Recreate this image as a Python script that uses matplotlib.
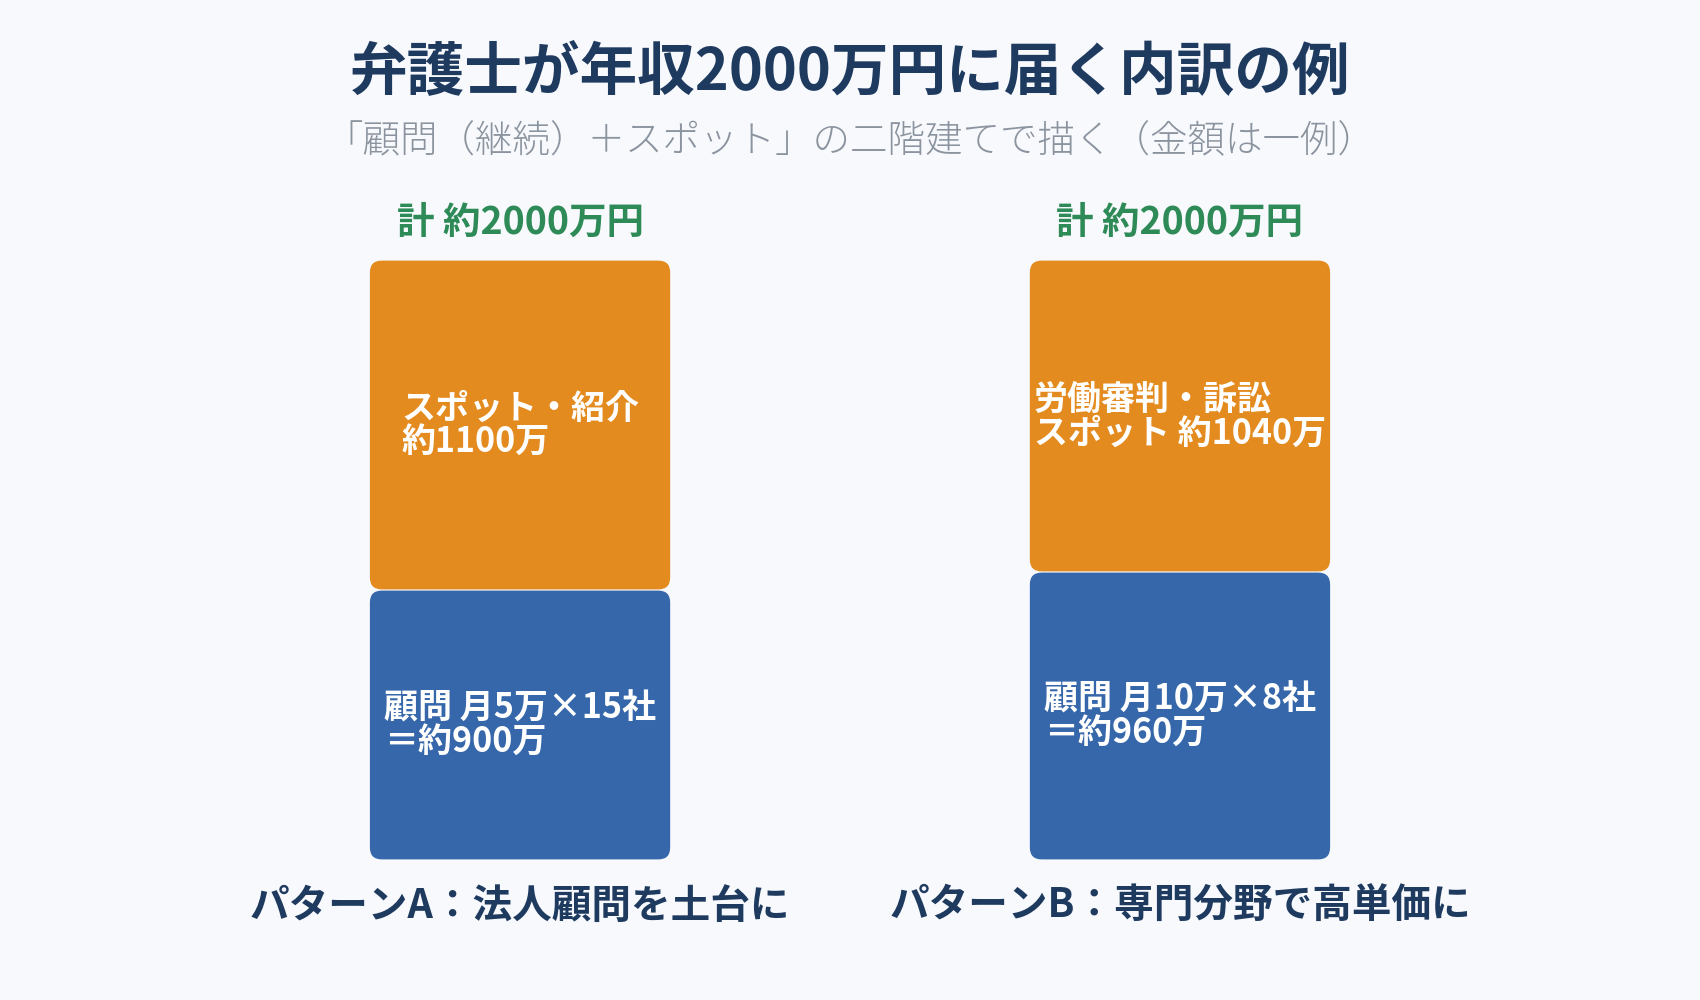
import matplotlib
matplotlib.use('Agg')
import matplotlib.pyplot as plt
from matplotlib.patches import FancyBboxPatch

plt.rcParams['font.family'] = ['Noto Sans CJK JP', 'DejaVu Sans']

# data
patterns = ['パターンA：法人顧問を土台に', 'パターンB：専門分野で高単価に']
komon = [900, 960]
spot = [1100, 1040]
komon_labels = ['顧問 月5万×15社\n＝約900万', '顧問 月10万×8社\n＝約960万']
spot_labels = ['スポット・紹介\n約1100万', '労働審判・訴訟\nスポット 約1040万']
total_label = '計 約2000万円'

bg = '#f7f9fd'
c_blue = '#3567aa'
c_orange = '#e48b1f'
c_navy = '#1f3a5f'
c_green = '#2e8b57'

fig = plt.figure(figsize=(17, 10), dpi=100, facecolor=bg)
ax = fig.add_axes([0, 0, 1, 1])
ax.set_facecolor(bg)
ax.set_xlim(-0.788, 1.788)
ax.set_ylim(-140 / 0.3, 860 / 0.3)
ax.axis('off')

x = list(range(len(patterns)))
w = 0.455
b1 = ax.bar(x, komon, width=w, color=c_blue)
b2 = ax.bar(x, spot, width=w, bottom=komon, color=c_orange)

# replace plain bars with rounded ones
asp = (1 / 0.3) / (1 / 660)
for bars in (b1, b2):
    for p in bars:
        p.set_visible(False)
        fb = FancyBboxPatch((p.get_x(), p.get_y() + 2), p.get_width(), p.get_height() - 4,
                            boxstyle='round,pad=0,rounding_size=0.018',
                            mutation_aspect=asp, facecolor=p.get_facecolor(),
                            edgecolor='none')
        ax.add_patch(fb)

for i in x:
    ax.text(i, komon[i] / 2, komon_labels[i], ha='center', va='center',
            multialignment='left', color='white', fontsize=24.5, fontweight='bold',
            linespacing=0.95)
    ax.text(i, komon[i] + spot[i] / 2, spot_labels[i], ha='center', va='center',
            multialignment='left', color='white', fontsize=24.5, fontweight='bold',
            linespacing=0.95)
    ax.annotate(total_label, (i, komon[i] + spot[i]), xytext=(0, 38),
                textcoords='offset pixels', ha='center', va='center',
                color=c_green, fontsize=27, fontweight='bold')
    ax.annotate(patterns[i], (i, 0), xytext=(0, -46),
                textcoords='offset pixels', ha='center', va='center',
                color=c_navy, fontsize=28.5, fontweight='bold')

fig.text(0.5, 1 - 72 / 1000, '弁護士が年収2000万円に届く内訳の例', ha='center', va='center',
         color=c_navy, fontsize=41.5, fontweight='bold')
fig.text(0.5, 1 - 142 / 1000, '「顧問（継続）＋スポット」の二階建てで描く（金額は一例）',
         ha='center', va='center', color='#8a939e', fontsize=27, fontweight='light')

fig.savefig('out.png', dpi=100, facecolor=bg)
